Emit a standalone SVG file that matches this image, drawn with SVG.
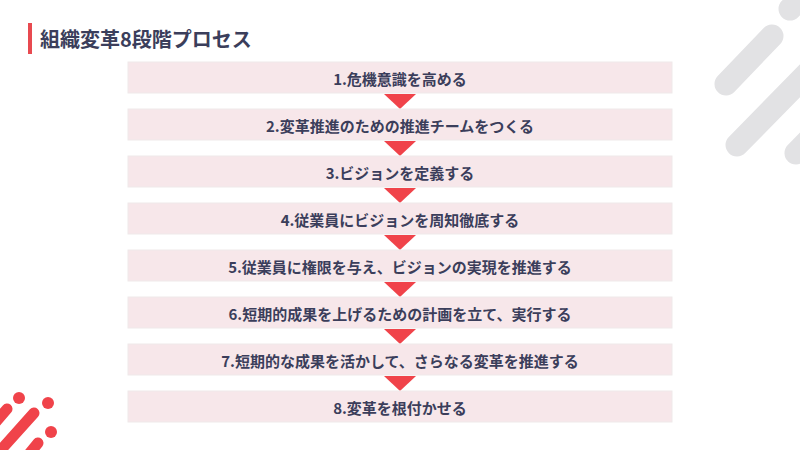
<svg xmlns="http://www.w3.org/2000/svg" width="800" height="450" viewBox="0 0 800 450">
<style>
.box{fill:#f7e7ea;stroke:#efe9ea;stroke-width:1}
.lbl{font-family:"Noto Sans CJK JP","Liberation Sans",sans-serif;font-size:15px;font-weight:bold;fill:#3b3e5b;text-anchor:middle;dominant-baseline:central}
.title{font-family:"Noto Sans CJK JP","Liberation Sans",sans-serif;font-size:20px;font-weight:bold;fill:#3b3e5b}
.arrow{fill:#f0434a}
.grey{stroke:#e2e2e4;stroke-width:23;stroke-linecap:round;fill:none}
.red{stroke:#f0434a;stroke-width:11;stroke-linecap:round;fill:none}
</style>
<rect width="800" height="450" fill="#ffffff"/>
<g id="deco-grey">
<line class="grey" x1="726" y1="84" x2="772" y2="36"/>
<line class="grey" x1="737" y1="145" x2="840" y2="40"/>
<line class="grey" x1="790" y1="9" x2="830" y2="-31"/>
<line class="grey" x1="796" y1="153" x2="840" y2="108"/>
</g>
<g id="deco-red">
<circle cx="19" cy="398" r="6" fill="#f0434a"/>
<circle cx="48" cy="403" r="6" fill="#f0434a"/>
<circle cx="51" cy="432" r="6" fill="#f0434a"/>
<line class="red" x1="7" y1="409" x2="-20" y2="440"/>
<line class="red" x1="34" y1="413" x2="-10" y2="462"/>
<line class="red" x1="38" y1="443" x2="20" y2="465"/>
</g>
<g id="title">
<rect x="28" y="23" width="4" height="31" fill="#e84a50"/>
<text class="title" x="40" y="47">組織変革8段階プロセス</text>
</g>
<g id="connectors">
<polygon class="arrow" points="384,94 416,94 400,109"/>
<polygon class="arrow" points="384,141 416,141 400,156"/>
<polygon class="arrow" points="384,188 416,188 400,203"/>
<polygon class="arrow" points="384,235 416,235 400,250"/>
<polygon class="arrow" points="384,282 416,282 400,297"/>
<polygon class="arrow" points="384,329 416,329 400,344"/>
<polygon class="arrow" points="384,376 416,376 400,391"/>
</g>
<g id="step1"><rect class="box" x="128" y="62" width="544" height="31"/><text class="lbl" x="400" y="78">1.危機意識を高める</text></g>
<g id="step2"><rect class="box" x="128" y="109" width="544" height="31"/><text class="lbl" x="400" y="125">2.変革推進のための推進チームをつくる</text></g>
<g id="step3"><rect class="box" x="128" y="156" width="544" height="31"/><text class="lbl" x="400" y="172">3.ビジョンを定義する</text></g>
<g id="step4"><rect class="box" x="128" y="203" width="544" height="31"/><text class="lbl" x="400" y="219">4.従業員にビジョンを周知徹底する</text></g>
<g id="step5"><rect class="box" x="128" y="250" width="544" height="31"/><text class="lbl" x="400" y="266">5.従業員に権限を与え、ビジョンの実現を推進する</text></g>
<g id="step6"><rect class="box" x="128" y="297" width="544" height="31"/><text class="lbl" x="400" y="313">6.短期的成果を上げるための計画を立て、実行する</text></g>
<g id="step7"><rect class="box" x="128" y="344" width="544" height="31"/><text class="lbl" x="400" y="360">7.短期的な成果を活かして、さらなる変革を推進する</text></g>
<g id="step8"><rect class="box" x="128" y="391" width="544" height="31"/><text class="lbl" x="400" y="407">8.変革を根付かせる</text></g>
</svg>
